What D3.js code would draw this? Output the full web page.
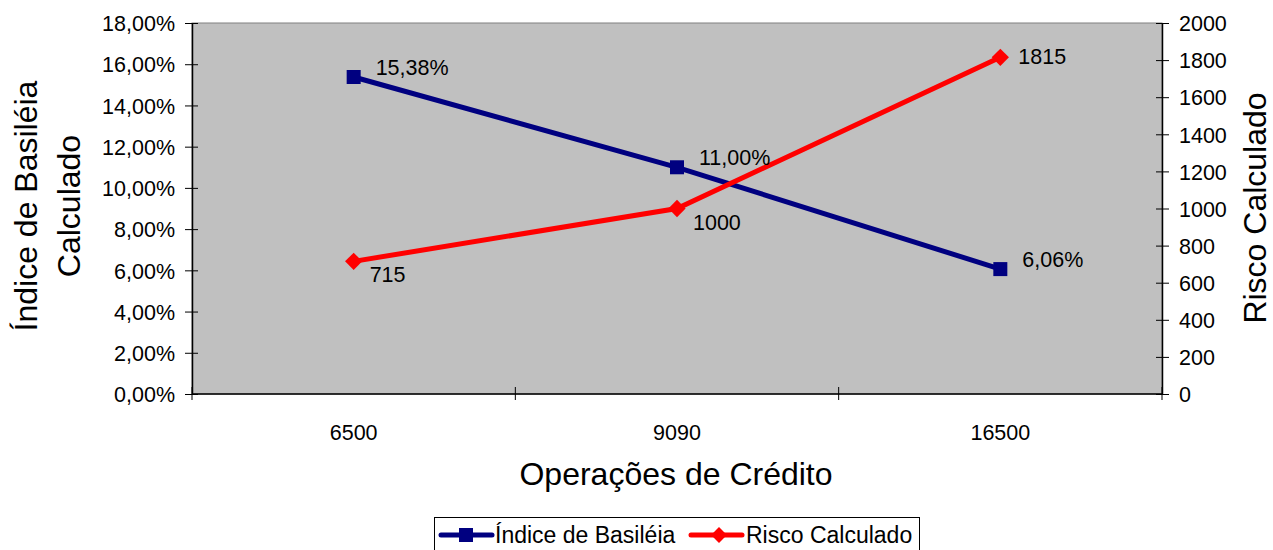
<!DOCTYPE html>
<html>
<head>
<meta charset="utf-8">
<script src="https://cdn.jsdelivr.net/npm/d3@7/dist/d3.min.js"></script>
<style>
  body { margin: 0; background: #fff; }
  svg text { font-family: "Liberation Sans", Arial, sans-serif; fill: #000; }
</style>
</head>
<body>
<svg id="chart" width="1273" height="550"></svg>
<script>
// Credit operations vs. Basel index and computed risk
const categories = ["6500", "9090", "16500"];
const basileia = [15.38, 11.00, 6.06];          // percent
const basileiaLabels = ["15,38%", "11,00%", "6,06%"];
const risco = [715, 1000, 1815];
const riscoLabels = ["715", "1000", "1815"];
const leftTicks = [0, 2, 4, 6, 8, 10, 12, 14, 16, 18];
const rightTicks = [0, 200, 400, 600, 800, 1000, 1200, 1400, 1600, 1800, 2000];

(function () {
const svg = d3.select("#chart");
const pL = 192, pR = 1162, pT = 23, pB = 394;
const tickFont = 21.5, labelFont = 21.5, titleFont = 32, legendFont = 23;

const x = d3.scaleBand().domain(categories).range([pL, pR]);
const yL = d3.scaleLinear().domain([0, 18]).range([pB, pT]);
const yR = d3.scaleLinear().domain([0, 2000]).range([pB, pT]);

// plot area
svg.append("rect").attr("x", pL).attr("y", pT)
  .attr("width", pR - pL).attr("height", pB - pT)
  .attr("fill", "#c0c0c0").attr("stroke", "#808080").attr("stroke-width", 1);

const fmtPct = d => d3.format(".2f")(d).replace(".", ",") + "%";

// left axis
const gL = svg.append("g").attr("transform", `translate(${pL},0)`)
  .call(d3.axisLeft(yL).tickValues(leftTicks).tickFormat(fmtPct).tickSizeInner(7).tickSizeOuter(0).tickPadding(10));
gL.selectAll(".tick line").attr("x1", 6);
// right axis
const gR = svg.append("g").attr("transform", `translate(${pR},0)`)
  .call(d3.axisRight(yR).tickValues(rightTicks).tickFormat(d3.format("d")).tickSizeInner(7).tickSizeOuter(0).tickPadding(10));
gR.selectAll(".tick line").attr("x1", -6);
// bottom axis with ticks at band boundaries
const gB = svg.append("g").attr("transform", `translate(0,${pB})`);
gB.append("line").attr("x1", pL).attr("x2", pR).attr("stroke", "#000").attr("stroke-width", 1.5);
const bounds = categories.map(c => x(c)).concat([pR]);
gB.selectAll("line.tk").data(bounds).join("line").attr("class", "tk")
  .attr("x1", d => d).attr("x2", d => d).attr("y1", -7).attr("y2", 6).attr("stroke", "#000");
gB.selectAll("text").data(categories).join("text")
  .attr("x", d => x(d) + x.bandwidth() / 2).attr("y", 46)
  .attr("text-anchor", "middle").style("font-size", tickFont + "px").text(d => d);

[gL, gR].forEach(g => {
  g.attr("font-size", null).attr("font-family", null);
  g.selectAll("text").style("font-size", tickFont + "px").attr("fill", "#000").attr("dy", "0.36em");
  g.selectAll("line, path").attr("stroke", "#000");
  g.select(".domain").attr("stroke-width", 1.5);
});

const cx = d => x(d) + x.bandwidth() / 2;

// Basel index line
svg.append("path").datum(basileia)
  .attr("d", d3.line().x((d, i) => cx(categories[i])).y(d => yL(d)))
  .attr("fill", "none").attr("stroke", "#000080").attr("stroke-width", 5);
svg.selectAll("rect.mk").data(basileia).join("rect").attr("class", "mk")
  .attr("x", (d, i) => cx(categories[i]) - 7).attr("y", d => yL(d) - 7)
  .attr("width", 14).attr("height", 14).attr("fill", "#000080");

// Risk line
svg.append("path").datum(risco)
  .attr("d", d3.line().x((d, i) => cx(categories[i])).y(d => yR(d)))
  .attr("fill", "none").attr("stroke", "#ff0000").attr("stroke-width", 5);
svg.selectAll("path.dm").data(risco).join("path").attr("class", "dm")
  .attr("d", d3.symbol().type(d3.symbolDiamond2).size(190))
  .attr("transform", (d, i) => `translate(${cx(categories[i])},${yR(d)})`)
  .attr("fill", "#ff0000");

// value labels
svg.selectAll("text.lb").data(basileia).join("text").attr("class", "lb")
  .attr("x", (d, i) => cx(categories[i]) + 22).attr("y", d => yL(d) - 2)
  .style("font-size", labelFont + "px").text((d, i) => basileiaLabels[i]);
svg.selectAll("text.lr").data(risco).join("text").attr("class", "lr")
  .attr("x", (d, i) => cx(categories[i]) + (i === 2 ? 18 : 16))
  .attr("y", (d, i) => yR(d) + (i === 2 ? 7 : 21))
  .style("font-size", labelFont + "px").text((d, i) => riscoLabels[i]);

// axis titles
svg.append("text").attr("transform", "translate(676,485)").attr("text-anchor", "middle")
  .style("font-size", titleFont + "px").text("Operações de Crédito");
const lt = svg.append("text").attr("transform", "translate(0,206) rotate(-90)").attr("text-anchor", "middle").style("font-size", titleFont + "px");
lt.append("tspan").attr("x", 0).attr("y", 37).text("Índice de Basiléia");
lt.append("tspan").attr("x", 0).attr("y", 80).text("Calculado");
svg.append("text").attr("transform", "translate(1266,208) rotate(-90)").attr("text-anchor", "middle")
  .style("font-size", titleFont + "px").text("Risco Calculado");

// legend
const lg = svg.append("g");
lg.append("rect").attr("x", 434.5).attr("y", 517.5).attr("width", 485).attr("height", 40)
  .attr("fill", "#fff").attr("stroke", "#000");
const items = [
  { name: "Índice de Basiléia", color: "#000080", shape: "square", x0: 441, tx: 495 },
  { name: "Risco Calculado", color: "#ff0000", shape: "diamond", x0: 691, tx: 746 }
];
items.forEach(it => {
  lg.append("line").attr("x1", it.x0).attr("x2", it.x0 + 51).attr("y1", 535).attr("y2", 535)
    .attr("stroke", it.color).attr("stroke-width", 5).attr("stroke-linecap", "round");
  if (it.shape === "square") {
    lg.append("rect").attr("x", it.x0 + 18).attr("y", 528).attr("width", 14).attr("height", 14).attr("fill", it.color);
  } else {
    lg.append("path").attr("d", d3.symbol().type(d3.symbolDiamond2).size(160))
      .attr("transform", `translate(${it.x0 + 28},535)`).attr("fill", it.color);
  }
  lg.append("text").attr("x", it.tx).attr("y", 543).style("font-size", legendFont + "px").text(it.name);
});
})();
</script>
</body>
</html>
